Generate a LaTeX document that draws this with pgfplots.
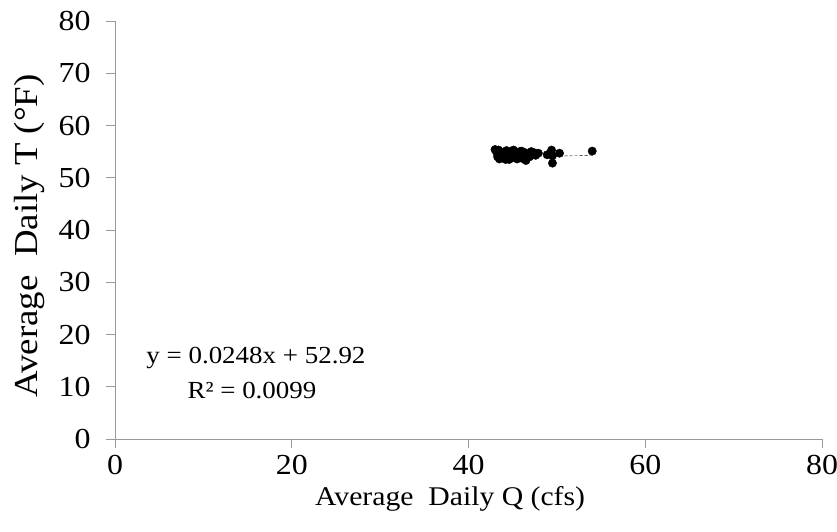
\documentclass[border=0pt]{standalone}
\usepackage{pgfplots}
\pgfplotsset{compat=1.18}
\usepackage{fontspec}
\setmainfont{Liberation Serif}[FakeStretch=1.1]
\begin{document}
\begin{tikzpicture}
\useasboundingbox (-115pt,-92pt) rectangle (722pt,439pt);
\begin{axis}[
  at={(0pt,0pt)}, anchor=south west,
  scale only axis, width=707pt, height=418pt,
  xmin=0, xmax=80, ymin=0, ymax=80,
  xtick={0,20,40,60,80}, ytick={0,10,...,80},
  axis lines=left, axis line style={gray!80, -, line width=0.8pt},
  tick style={gray!80, line width=0.8pt}, major tick length=9pt,
  tick align=outside,
  every tick label/.append style={font=\fontsize{29}{32}\selectfont},
  every y tick label/.append style={xshift=-12pt},
  every x tick label/.append style={yshift=-4pt},
  /pgf/number format/assume math mode=true,
  xlabel={Average\ \ Daily Q (cfs)},
  ylabel={Average\ \ Daily T (\textdegree F)},
  every axis x label/.style={at={(axis description cs:0.474,-0.158)}, anchor=base, font=\fontsize{27}{32}\selectfont},
  every axis y label/.style={at={(axis description cs:-0.110,0.486)}, anchor=base, rotate=90, font=\fontsize{33.5}{36}\selectfont},
  clip=false,
]
\addplot[only marks, mark=*, mark size=4.2pt, black] coordinates {
(43.0,55.4)(43.2,54.8)(43.3,54.0)(43.5,53.6)(43.6,55.0)(43.8,54.4)(44.0,53.8)
(44.1,54.9)(44.3,55.2)(44.4,54.2)(44.6,53.5)(44.7,54.6)(44.9,55.1)(45.0,53.9)
(45.2,54.4)(45.3,54.9)(45.5,53.6)(45.6,54.1)(45.8,55.0)(45.9,54.5)(46.1,53.7)
(46.2,54.2)(46.4,54.8)(46.5,53.3)(46.7,54.5)(46.9,54.0)(47.1,55.0)(47.2,54.4)
(47.4,54.8)(47.6,54.3)(44.2,53.5)(45.1,55.3)(46.0,55.1)(43.4,55.3)(44.8,53.8)
(47.9,54.7)(48.9,54.4)(49.4,55.3)(49.5,54.2)(49.5,52.8)(50.3,54.7)
(54.0,55.1)
};
\addplot[black, densely dashed, thin, forget plot] coordinates {(50.3,54.17)(54.0,54.26)};
\node[font=\fontsize{24.5}{28}\selectfont] at (axis cs:15.95,15.5) {y = 0.0248x + 52.92};
\node[font=\fontsize{24.5}{28}\selectfont] at (axis cs:15.5,9.3) {R² = 0.0099};
\end{axis}
\end{tikzpicture}
\end{document}
